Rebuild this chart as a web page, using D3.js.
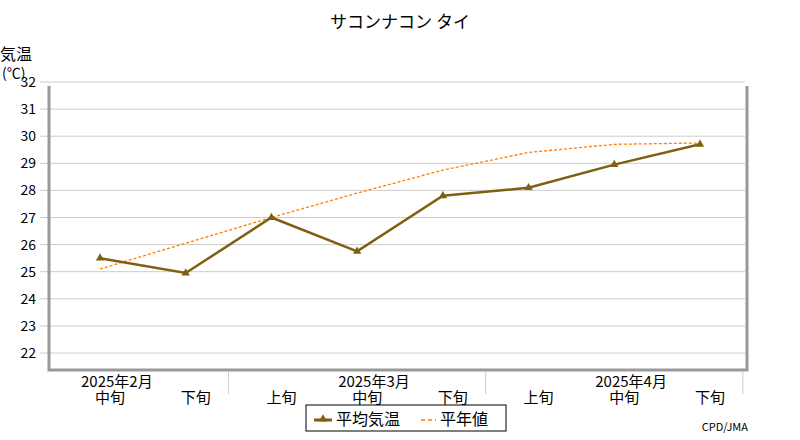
<!DOCTYPE html>
<html><head><meta charset="utf-8">
<script src="https://cdn.jsdelivr.net/npm/d3@7"></script>
<style>body{margin:0;background:#fff}text{font-family:"Noto Sans CJK JP",sans-serif}</style>
</head><body><svg id="c" width="800" height="440"></svg>
<script>
const periods=["中旬","下旬","上旬","中旬","下旬","上旬","中旬","下旬"];
const months=[{i:0,label:"2025年2月"},{i:3,label:"2025年3月"},{i:6,label:"2025年4月"}];
const separators=[1.5,4.5,7.5];
const avgTemp=[25.5,24.95,27.0,25.75,27.8,28.1,28.95,29.7];
const normalTemp=[25.1,26.05,27.0,27.9,28.75,29.4,29.7,29.75];
const yTicks=[22,23,24,25,26,27,28,29,30,31,32];

const svg=d3.select("#c");
const x=d3.scaleLinear().domain([0,7]).range([100,700]);
const y=d3.scaleLinear().domain([22,32]).range([353,82]);
const L=49,R=747,B=370;

svg.append("text").attr("x",400).attr("y",28).attr("text-anchor","middle").attr("font-size",17).text("サコンナコン タイ");
svg.append("text").attr("x",0).attr("y",60).attr("font-size",16).text("気温");
svg.append("text").attr("x",2).attr("y",78).attr("font-size",14).text("(℃)");

svg.selectAll(".g").data(yTicks).join("line").attr("x1",40).attr("x2",745)
 .attr("y1",d=>y(d)).attr("y2",d=>y(d)).attr("stroke","#ccc");
svg.selectAll(".yt").data(yTicks).join("text").attr("x",36).attr("y",d=>y(d)+5)
 .attr("text-anchor","end").attr("font-size",14).text(d=>d);

svg.append("path").attr("d",`M${L},86V${B}H${R}V86`).attr("fill","none").attr("stroke","#999").attr("stroke-width",3);

svg.selectAll(".sep").data(separators).join("line").attr("x1",d=>x(d)).attr("x2",d=>x(d))
 .attr("y1",B+2).attr("y2",B+24).attr("stroke","#ccc");
svg.selectAll(".pl").data(periods).join("text").attr("x",(d,i)=>x(i)+10).attr("y",403)
 .attr("text-anchor","middle").attr("font-size",15).text(d=>d);
svg.selectAll(".ml").data(months).join("text").attr("x",d=>x(d.i)-19).attr("y",387)
 .attr("font-size",15).text(d=>d.label);

const line=d3.line().x((d,i)=>x(i)).y(d=>y(d));
svg.append("path").attr("d",line(normalTemp)).attr("fill","none").attr("stroke","#ff7f00").attr("stroke-width",1.3).attr("stroke-dasharray","3,2");
svg.append("path").attr("d",line(avgTemp)).attr("fill","none").attr("stroke","#7f6010").attr("stroke-width",2.5);
const tri=d3.symbol().type(d3.symbolTriangle).size(30);
svg.selectAll(".pt").data(avgTemp).join("path").attr("d",tri)
 .attr("transform",(d,i)=>`translate(${x(i)},${y(d)})`).attr("fill","#7f6010");

const lg=svg.append("g");
lg.append("rect").attr("x",306).attr("y",405).attr("width",200).attr("height",26).attr("fill","#fff").attr("stroke","#000");
lg.append("line").attr("x1",314).attr("x2",332).attr("y1",420).attr("y2",420).attr("stroke","#7f6010").attr("stroke-width",3);
lg.append("path").attr("d",tri).attr("transform","translate(323,419)").attr("fill","#7f6010");
lg.append("text").attr("x",336).attr("y",425).attr("font-size",16).text("平均気温");
lg.append("line").attr("x1",421).attr("x2",436).attr("y1",420).attr("y2",420).attr("stroke","#ff7f00").attr("stroke-width",1.3).attr("stroke-dasharray","4,3");
lg.append("text").attr("x",440).attr("y",425).attr("font-size",16).text("平年値");
svg.append("text").attr("x",748).attr("y",431).attr("text-anchor","end").attr("font-size",11).attr("font-family","DejaVu Sans Mono").text("CPD/JMA");
</script></body></html>
